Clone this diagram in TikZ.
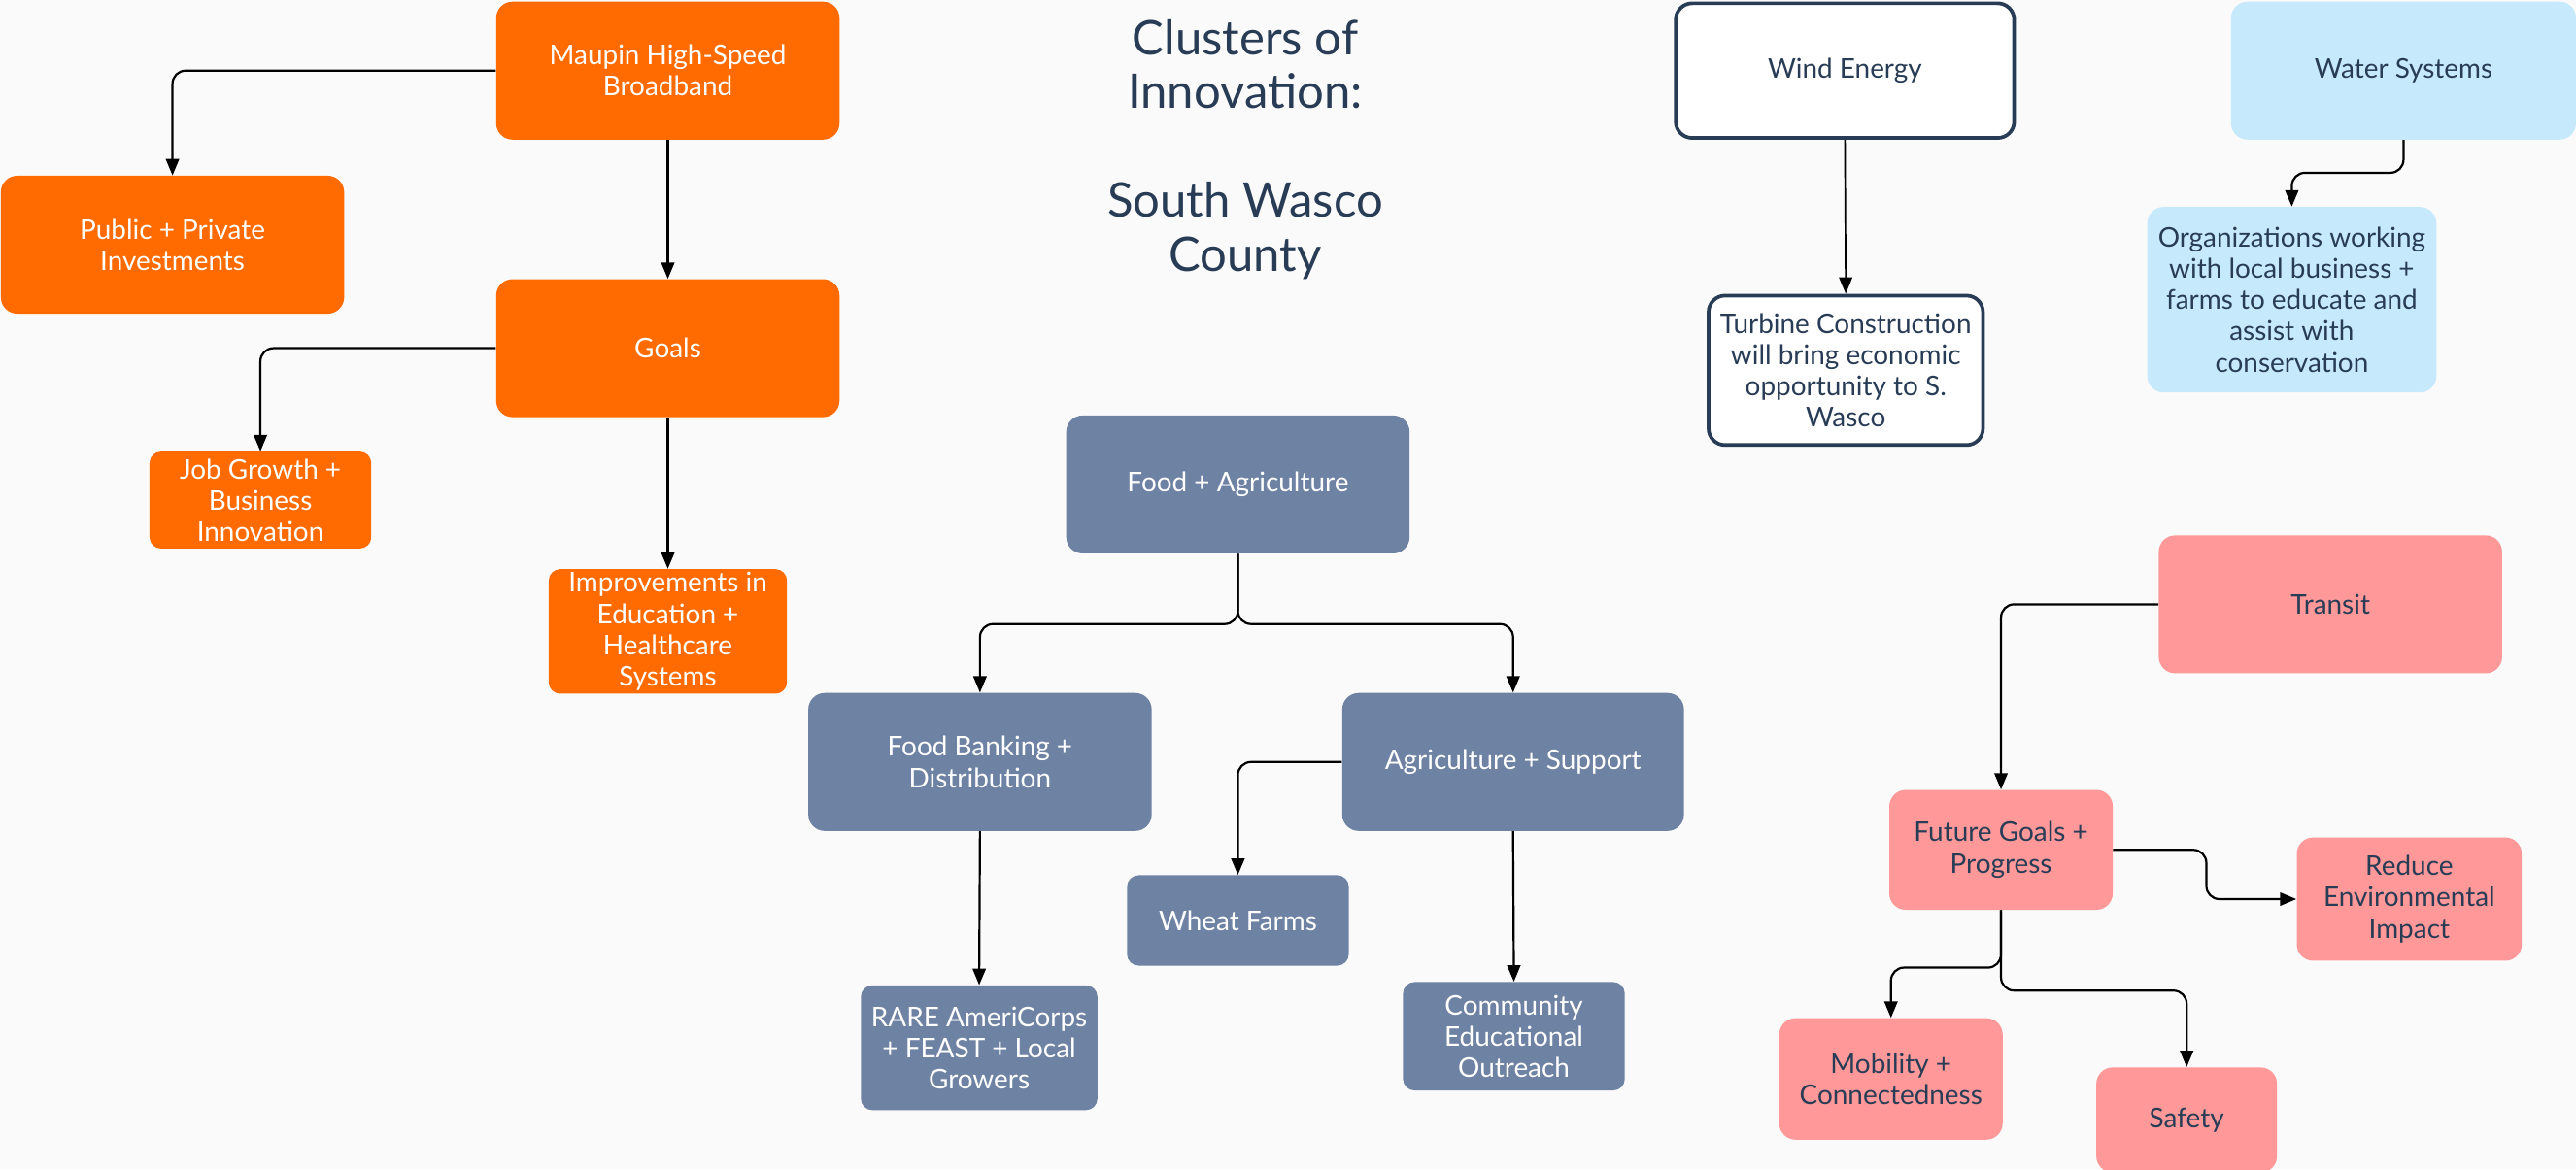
\documentclass[tikz,border=0pt]{standalone}
\usepackage{fontspec}
\setmainfont{Lato}
\usetikzlibrary{arrows.meta}

\definecolor{bgpaper}{HTML}{FAFAFA}
\definecolor{netorange}{HTML}{FF6B00}
\definecolor{farmslate}{HTML}{6E82A3}
\definecolor{waterblue}{HTML}{C7E9FC}
\definecolor{transitpink}{HTML}{FF9999}
\definecolor{inknavy}{HTML}{283C56}

\tikzset{
  box/.style={rounded corners=10pt, align=center, inner sep=2pt,
    font=\fontsize{16.5}{19}\selectfont},
  netbox/.style={box, fill=netorange, text=white},
  farmbox/.style={box, fill=farmslate, text=white},
  windbox/.style={box, fill=white, draw=inknavy, line width=2.2pt, text=inknavy},
  waterbox/.style={box, fill=waterblue, text=inknavy},
  transitbox/.style={box, fill=transitpink, text=inknavy},
  conn/.style={draw=black, line width=1.3pt, rounded corners=8pt,
    -{Triangle[length=10pt,width=8pt]}},
}

\begin{document}
\begin{tikzpicture}[x=1pt, y=-1pt]
  \useasboundingbox[fill=bgpaper] (0,0) rectangle (1568,712);

  % title
  \node (title) [text=inknavy, align=center, font=\fontsize{29}{33}\selectfont]
    at (758,91) {Clusters of\\Innovation:\\[33pt]South Wasco\\County};

  % broadband cluster
  \node (bb) [netbox, minimum width=209pt, minimum height=84pt] at (406.5,43) {Maupin High-Speed\\Broadband};
  \node (pub) [netbox, minimum width=209pt, minimum height=84pt] at (105,149) {Public + Private\\Investments};
  \node (goals) [netbox, minimum width=209pt, minimum height=84pt] at (406.5,212) {Goals};
  \node (jobs) [netbox, rounded corners=7pt, minimum width=135pt, minimum height=59pt] at (158.5,304.5) {Job Growth +\\Business\\Innovation};
  \node (edu) [netbox, rounded corners=7pt, minimum width=145pt, minimum height=75pt] at (406.5,384.5) {Improvements in\\Education +\\Healthcare\\Systems};

  \draw[conn] (bb.west) -| (pub.north);
  \draw[conn] (bb.south) -- (goals.north);
  \draw[conn] (goals.west) -| (jobs.north);
  \draw[conn] (goals.south) -- (edu.north);

  % food + agriculture cluster
  \node (food) [farmbox, minimum width=209pt, minimum height=84pt] at (753.5,295) {Food + Agriculture};
  \node (bank) [farmbox, minimum width=209pt, minimum height=84pt] at (596.5,464) {Food Banking +\\Distribution};
  \node (agri) [farmbox, minimum width=208pt, minimum height=84pt] at (921,464) {Agriculture + Support};
  \node (wheat) [farmbox, rounded corners=7pt, minimum width=135pt, minimum height=55pt] at (753.5,560.5) {Wheat Farms};
  \node (rare) [farmbox, rounded corners=7pt, minimum width=144pt, minimum height=76pt] at (596,638) {RARE AmeriCorps\\+ FEAST + Local\\Growers};
  \node (outreach) [farmbox, rounded corners=7pt, minimum width=135pt, minimum height=66pt] at (921.5,631) {Community\\Educational\\Outreach};

  \coordinate (foodsplit) at (753.5,380);
  \draw[conn] (food.south) -- (foodsplit) -| (bank.north);
  \draw[conn] (food.south) -- (foodsplit) -| (agri.north);
  \draw[conn] (bank.south) -- (rare.north);
  \draw[conn] (agri.west) -| (wheat.north);
  \draw[conn] (agri.south) -- (outreach.north);

  % wind + water
  \node (wind) [windbox, minimum width=206pt, minimum height=82pt] at (1123,43) {Wind Energy};
  \node (turbine) [windbox, minimum width=167pt, minimum height=91pt] at (1123.5,225.5) {Turbine Construction\\will bring economic\\opportunity to S.\\Wasco};
  \node (water) [waterbox, minimum width=210pt, minimum height=84pt] at (1463,43) {Water Systems};
  \node (orgs) [waterbox, minimum width=176pt, minimum height=113pt] at (1395,182.5) {Organizations working\\with local business +\\farms to educate and\\assist with\\conservation};

  \draw[conn, line width=1pt] (wind.south) -- (turbine.north);
  \draw[conn] (water.south) -- ++(0,20) -| (orgs.north);

  % transit cluster
  \node (transit) [transitbox, minimum width=209pt, minimum height=84pt] at (1418.5,368) {Transit};
  \node (future) [transitbox, minimum width=136pt, minimum height=73pt] at (1218,517.5) {Future Goals +\\Progress};
  \node (reduce) [transitbox, minimum width=137pt, minimum height=75pt] at (1466.5,547.5) {Reduce\\Environmental\\Impact};
  \node (mobility) [transitbox, minimum width=136pt, minimum height=74pt] at (1151,657) {Mobility +\\Connectedness};
  \node (safety) [transitbox, minimum width=110pt, minimum height=64pt] at (1331,682) {Safety};

  \coordinate (futureturn) at (1343,0);
  \draw[conn] (transit.west) -| (future.north);
  \draw[conn] (future.east) -- (future.east -| futureturn) |- (reduce.west);
  \draw[conn] (future.south) -- ++(0,35) -| (mobility.north);
  \draw[conn] (future.south) -- ++(0,49) -| (safety.north);
\end{tikzpicture}
\end{document}
